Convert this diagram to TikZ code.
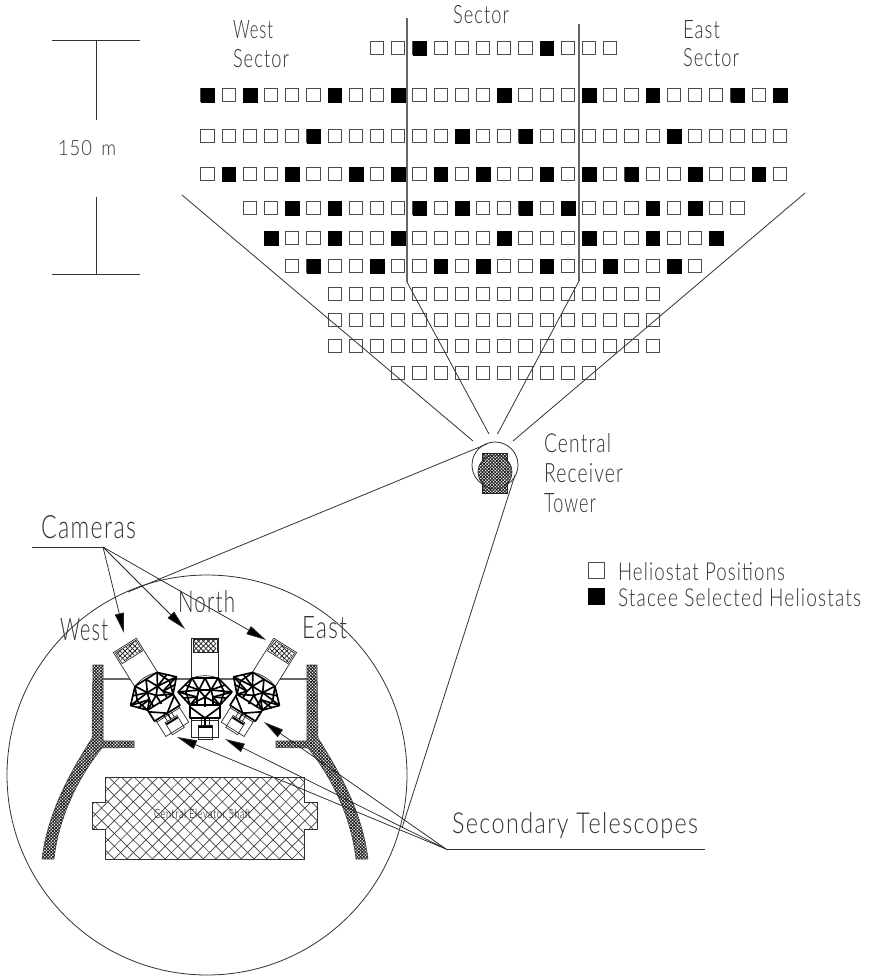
\documentclass[tikz,border=0pt]{standalone}
\usepackage{graphicx}
\usepackage{fontspec}
\setmainfont{Lato Light}[LetterSpace=6]
\usetikzlibrary{arrows.meta,patterns.meta}
\tikzset{
  hel/.style={draw=black!70,fill=white,line width=.75pt,minimum size=10pt,inner sep=0pt,outer sep=0pt},
  helb/.style={draw=black,fill=black,line width=.2pt,minimum size=10.2pt,inner sep=0pt,outer sep=0pt},
  thin line/.style={draw=black!80,line width=.6pt},
  barline/.style={draw=black!60,line width=.85pt},
  lead/.style={draw=black!85,line width=.55pt,-{Triangle[length=15pt,width=6.8pt,fill=black]}},
  lbl/.style={inner sep=0pt,outer sep=0pt,anchor=base west,text=black!80},
  dense/.style={pattern={Lines[angle=45,distance=1.7pt,line width=.62pt]},pattern color=black!90},
  dense2/.style={pattern={Lines[angle=-45,distance=1.7pt,line width=.62pt]},pattern color=black!90},
  coarse/.style={pattern={Lines[angle=45,distance=2.6pt,line width=.6pt]},pattern color=black!85},
  coarse2/.style={pattern={Lines[angle=-45,distance=2.6pt,line width=.6pt]},pattern color=black!85},
  truss/.style={draw=black,line width=1.25pt,line join=round},
  fine/.style={draw=black!85,line width=.5pt}
}
\newcommand{\lab}[6]{\node[lbl] (#1) at (#2,#3) {\resizebox{\dimexpr#4pt*3/4\relax}{\dimexpr#5pt*3/4\relax}{#6}};}
\newcommand{\tele}[3]{%
\begin{scope}[shift={(#1,#2)},rotate=#3]
  \draw[fine,fill=white] (-13.5,-55) rectangle (13.5,-14);
  \fill[coarse] (-11,-53) rectangle (11,-42);
  \fill[coarse2] (-11,-53) rectangle (11,-42);
  \draw[fine] (-12,-53.5) rectangle (12,-41);
  \draw[fine,fill=white] (-13.5,14) rectangle (13.5,44);
  \draw[fine] (-13.5,27) -- (13.5,27);
  \draw[fine] (-7,32) rectangle (7,46);
  \draw[draw=black,line width=1.5pt] (-6.5,34) -- (6.5,34);
  \draw[line width=1pt] (0,26) -- (0,32);
  \draw[fine] (-4,18) -- (-4,32) (4,18) -- (4,32);
  \draw[truss,fill=white] (-27,-1) -- (-13,-15) -- (13,-15) -- (27,-1) -- (15,12) -- (15,25) -- (-15,25) -- (-15,12) -- cycle;
  \draw[fine] (-13,-15) .. controls (-5,-18) and (5,-18) .. (13,-15);
  \draw[truss] (-13,-15) -- (-6,-3) -- (0,-15) -- (6,-3) -- (13,-15);
  \draw[truss] (-27,-1) -- (-6,-3) -- (-8,4) -- (-27,-1);
  \draw[truss] (27,-1) -- (6,-3) -- (8,4) -- (27,-1);
  \draw[truss] (-13,-15) -- (-19,-1) (13,-15) -- (19,-1);
  \draw[truss] (-6,-3) -- (0,4) -- (6,-3) (-8,4) -- (-15,12) (8,4) -- (15,12);
  \draw[truss] (-15,12) -- (0,4) -- (15,12);
  \draw[truss] (-15,14) -- (0,25) -- (15,14);
  \draw[truss] (-20,-8) -- (-6,-3) (20,-8) -- (6,-3);
  \draw[truss] (-22,5) -- (-8,4) (22,5) -- (8,4);
  \draw[truss] (-19,-1) -- (-15,12) (19,-1) -- (15,12);
  \draw[truss] (-8,4) -- (-8,12) (8,4) -- (8,12);
  \draw[truss] (-15,12) -- (15,12) (0,4) -- (0,14);
  \draw[truss] (-6,-3) -- (6,-3);
\end{scope}}
\begin{document}
\begin{tikzpicture}[x=.75pt,y=-.75pt]
\useasboundingbox[fill=white] (0,0) rectangle (868,977);

% heliostat field
\foreach \yy/\aa/\bb in {48/8/19,95/0/27,136/0/27,174/0/27,208/2/25,238/3/24,266/4/23,294/6/21,320/6/21,346/6/21,373/9/18}{
  \foreach \cc in {\aa,...,\bb}{
    \node[hel] (h\yy-\cc) at ({207.5+21.2*\cc},\yy) {};
  }
}
\foreach \yy/\cols in {48/{10,16},95/{0,2,6,9,14,18,21,25,27},136/{5,12,15,22},174/{1,4,7,9,11,13,16,18,20,23,26},208/{4,6,10,12,15,17,21,23},238/{3,6,9,14,18,21,24},266/{5,8,11,13,16,19,22}}{
  \foreach \cc in \cols{
    \node[helb] (b\yy-\cc) at ({207.5+21.2*\cc},\yy) {};
  }
}

% sector lines
\coordinate (wtop) at (407,18);
\coordinate (wbend) at (407,282);
\coordinate (wend) at (489,434);
\coordinate (etop) at (579,24);
\coordinate (ebend) at (579,281);
\coordinate (eend) at (497.5,434);
\coordinate (ofl) at (182,195);
\coordinate (oflend) at (473,441);
\coordinate (ofr) at (805,193);
\coordinate (ofrend) at (513,441);
\draw[barline] (wtop) -- (wbend);
\draw[thin line] (wbend) -- (wend);
\draw[barline] (etop) -- (ebend);
\draw[thin line] (ebend) -- (eend);
\draw[thin line] (ofl) -- (oflend);
\draw[thin line] (ofr) -- (ofrend);

% scale bar
\coordinate (s1) at (52,40); \coordinate (s2) at (140,40);
\coordinate (s3) at (96,40); \coordinate (s4) at (96,120);
\coordinate (s5) at (52,274); \coordinate (s6) at (140,274);
\coordinate (s7) at (96,197); \coordinate (s8) at (96,274);
\draw[thin line] (s1) -- (s2) (s3) -- (s4) (s5) -- (s6) (s7) -- (s8);
\lab{scale}{58}{156}{58}{15}{150\,\,\,m}

% tower
\draw[thin line] (495,465) circle (23);
\fill[white] (482,453) rectangle (507,493);
\fill[dense] (482,453) rectangle (507,493);
\fill[dense2] (482,453) rectangle (507,493);
\draw[fine] (482,453) rectangle (507,493);
\fill[white] (495,472) circle (17);
\fill[dense] (495,472) circle (17);
\fill[dense2] (495,472) circle (17);
\draw[fine] (495,472) circle (17);

% labels
\lab{west1}{233}{39}{40}{18}{West}
\lab{west2}{233}{68}{56}{18}{Sector}
\lab{sec}{453}{24}{56}{18}{Sector}
\lab{east1}{683}{39}{37}{18}{East}
\lab{east2}{683}{67}{56}{18}{Sector}
\lab{t1}{544}{452}{67}{19}{Central}
\lab{t2}{544}{482}{79}{19}{Receiver}
\lab{t3}{544}{512}{52}{19}{Tower}
\node[hel,minimum size=11.5pt] (lw) at (596.5,570.5) {};
\node[helb,minimum size=12pt] (lb) at (596.5,596.5) {};
\lab{l1}{618}{580}{167}{18}{Heliostat\,\,Positions}
\lab{l2}{618}{606}{243}{18}{Stacee\,\,Selected\,\,Heliostats}
\lab{cam}{41}{538}{95}{23}{Cameras}
\lab{north}{178}{612}{57}{22}{North}
\lab{west}{60}{640}{48}{22}{West}
\lab{east}{302}{638}{45}{22}{East}
\lab{sect}{452}{833}{246}{21}{Secondary\,\,Telescopes}

% big circle
\draw[thin line] (207,775) circle (200);

% tower tangents
\coordinate (tga) at (487,444); \coordinate (tgb) at (128,592);
\coordinate (tgc) at (515,475); \coordinate (tgd) at (402,828);
\draw[thin line] (tga) -- (tgb);
\draw[thin line] (tgc) -- (tgd);

% walls
\foreach \sc/\sh in {1/0,-1/410}{
\begin{scope}[shift={(\sh,0)},xscale=\sc]
  \foreach \st in {dense,dense2}{
  \fill[\st] (93,665) -- (103,665) -- (103,741) -- (134,741) -- (134,747.5) -- (102,748)
     .. controls (80,775) and (59,815) .. (54,859) -- (42,859)
     .. controls (48,810) and (72,770) .. (92,738) -- cycle;}
  \draw[draw=black!75,line width=.4pt] (93,665) -- (103,665) -- (103,741) -- (134,741) -- (134,747.5) -- (102,748)
     .. controls (80,775) and (59,815) .. (54,859) -- (42,859)
     .. controls (48,810) and (72,770) .. (92,738) -- cycle;
\end{scope}}
\draw[barline] (103,679) -- (307,679);

% shaft
\begin{scope}
\clip (105,777) -- (304,777) -- (304,802) -- (317,802) -- (317,829) -- (304,829) -- (304,859) -- (105,859) -- (105,829) -- (92,829) -- (92,802) -- (105,802) -- cycle;
\foreach \k in {-10,...,35}{
  \draw[draw=black!75,line width=.5pt] ({\k*12.7},770) -- ({\k*12.7+100},870);
  \draw[draw=black!75,line width=.5pt] ({\k*12.7},770) -- ({\k*12.7-100},870);
}
\end{scope}
\draw[draw=black!80,line width=.7pt] (105,777) -- (304,777) -- (304,802) -- (317,802) -- (317,829) -- (304,829) -- (304,859) -- (105,859) -- (105,829) -- (92,829) -- (92,802) -- (105,802) -- cycle;
\node[lbl,text=black] (shaft) at (154,818) {\resizebox{72.75pt}{7pt}{Central\,\,Elevator\,\,Shaft}};

% telescopes
\tele{205}{693}{0}
\tele{154}{692}{32}
\tele{256}{692}{-32}

% camera leaders
\coordinate (cl0) at (32,547); \coordinate (cl) at (103,547);
\coordinate (ca) at (124,633); \coordinate (cb) at (185,629); \coordinate (cc) at (266,640);
\draw[thin line] (cl0) -- (cl);
\draw[lead] (cl) -- (ca);
\draw[lead] (cl) -- (cb);
\draw[lead] (cl) -- (cc);

% secondary leaders
\coordinate (sl0) at (446,849); \coordinate (sl) at (705,849);
\coordinate (ta) at (177,737); \coordinate (tb) at (225,739); \coordinate (tc) at (264,722);
\draw[thin line] (sl0) -- (sl);
\draw[lead] (sl0) -- (ta);
\draw[lead] (sl0) -- (tb);
\draw[lead] (sl0) -- (tc);
\end{tikzpicture}
\end{document}
